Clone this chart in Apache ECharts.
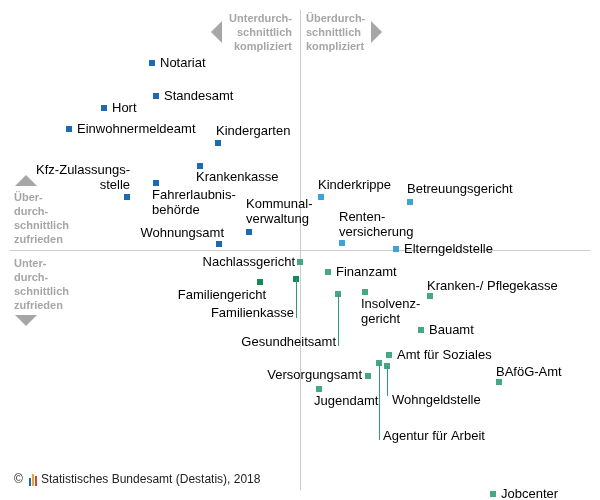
<!DOCTYPE html>
<html><head><meta charset="utf-8">
<script src="https://cdn.jsdelivr.net/npm/echarts@6/dist/echarts.min.js"></script>
<style>html,body{margin:0;padding:0;background:#fff}#c{width:600px;height:500px}</style>
</head><body><div id="c"></div>
<script>
// Data: x = complication (positive = above average complicated), y = satisfaction (positive = above average satisfied)
const names = ["Notariat","Standesamt","Hort","Einwohnermeldeamt","Kindergarten","Krankenkasse","Kfz-Zulassungs-\nstelle","Fahrerlaubnis-\nbehörde","Kommunal-\nverwaltung","Wohnungsamt",
"Kinderkrippe","Betreuungsgericht","Renten-\nversicherung","Elterngeldstelle",
"Nachlassgericht","Finanzamt","Familiengericht","Familienkasse","Gesundheitsamt","Insolvenz-\ngericht","Kranken-/ Pflegekasse","Bauamt","Amt für Soziales","BAföG-Amt","Versorgungsamt","Jugendamt","Wohngeldstelle","Agentur für Arbeit","Jobcenter"];
const xs = [-14.8,-14.4,-19.6,-23.1,-8.2,-10.0,-17.3,-14.4,-5.1,-8.1, 2.1,11.0,4.2,9.6, 0.0,2.8,-4.0,-0.4,3.8,6.5,13.0,12.1,8.9,19.9,6.8,1.9,8.7,7.9,19.3];
const ys = [18.7,15.4,14.2,12.1,10.7,8.4,5.3,6.7,1.8,0.6, 5.3,4.8,0.7,0.1, -1.2,-2.2,-3.2,-2.9,-4.4,-4.2,-4.6,-8.0,-10.5,-13.2,-12.6,-13.9,-11.6,-11.3,-24.4];
const groups = ["db","db","db","db","db","db","db","db","db","db","lb","lb","lb","lb","lg","lg","dg","dg","lg","lg","lg","lg","lg","lg","lg","lg","lg","lg","lg"];
// label offsets (px) relative to point and alignment; leader line length (px)
const labelOff = [[8,0,"left"],[8,0,"left"],[8,0,"left"],[8,0,"left"],[-2,-12,"left"],[-4,11,"left"],[3,-19,"right"],[-4,20,"left"],[-3,-20,"left"],[5,-11,"right"],
[-3,-12,"left"],[-3,-13,"left"],[-3,-18,"left"],[8,0,"left"],
[-5,0,"right"],[8,0,"left"],[6,13,"right"],[-2,34,"right"],[-2,48,"right"],[-4,20,"left"],[-3,-10,"left"],[8,0,"left"],[8,0,"left"],[-3,-10,"left"],[-6,-1,"right"],[-5,12,"left"],[5,34,"left"],[4,73,"left"],[8,0,"left"]];
const leaders = {"Familienkasse":39,"Gesundheitsamt":52,"Wohngeldstelle":30,"Agentur für Arbeit":77};
const colors = {db:"#1c6aaf",lb:"#3aa5d6",lg:"#45a882",dg:"#138a55"};

const data = names.map((n,i)=>({
  name:n, value:[xs[i],ys[i]],
  itemStyle:{color:colors[groups[i]],opacity:1},
  label:{show:true, formatter:n, position:[labelOff[i][0]+3,labelOff[i][1]+3], align:labelOff[i][2], verticalAlign:"middle"}
}));
const leaderLines = names.map((n,i)=>leaders[n]?[{coord:[xs[i],ys[i]]},{coord:[xs[i],ys[i]-leaders[n]/10]}]:null).filter(Boolean);

const chart = echarts.init(document.getElementById('c'));
const gray = "#a6a6a6";
const tri = (pts)=>({type:'polygon',shape:{points:pts},style:{fill:gray}});
chart.setOption({
  animation:false,
  grid:{left:10,right:10,top:10,bottom:10},
  xAxis:{type:'value',min:-29,max:29,axisLine:{onZero:true,lineStyle:{color:"#cccccc"}},axisTick:{show:false},axisLabel:{show:false},splitLine:{show:false}},
  yAxis:{type:'value',min:-24,max:24,axisLine:{onZero:true,lineStyle:{color:"#cccccc"}},axisTick:{show:false},axisLabel:{show:false},splitLine:{show:false}},
  series:[{type:'scatter',symbol:'rect',symbolSize:6,clip:false,data:data,
    label:{color:"#000",fontSize:13,fontFamily:"Liberation Sans, Arial",lineHeight:15},
    markLine:{silent:true,symbol:'none',label:{show:false},lineStyle:{color:"#2e9a76",type:'solid',width:1,opacity:1},emphasis:{disabled:true},data:leaderLines}
  }],
  graphic:[
    {type:'text',x:292,y:12,style:{text:"Unterdurch-\nschnittlich\nkompliziert",fill:gray,font:"bold 11px Liberation Sans, Arial",align:'right',lineHeight:14}},
    {type:'text',x:306,y:12,style:{text:"Überdurch-\nschnittlich\nkompliziert",fill:gray,font:"bold 11px Liberation Sans, Arial",align:'left',lineHeight:14}},
    tri([[211,32],[222,21],[222,43]]), tri([[382,32],[371,21],[371,43]]),
    tri([[15,186],[26,175],[37,186]]),
    {type:'text',x:14,y:191,style:{text:"Über-\ndurch-\nschnittlich\nzufrieden",fill:gray,font:"bold 11px Liberation Sans, Arial",lineHeight:14}},
    {type:'text',x:14,y:257,style:{text:"Unter-\ndurch-\nschnittlich\nzufrieden",fill:gray,font:"bold 11px Liberation Sans, Arial",lineHeight:14}},
    tri([[15,315],[37,315],[26,326]]),
    {type:'text',x:14,y:474,style:{text:"©",fill:"#222",font:"12px Liberation Sans, Arial"}},
    {type:'rect',shape:{x:29,y:478,width:2,height:8},style:{fill:"#1c6aaf"}},
    {type:'rect',shape:{x:32,y:474,width:2,height:12},style:{fill:"#e8a33d"}},
    {type:'rect',shape:{x:35,y:476,width:2,height:10},style:{fill:"#d9413a"}},
    {type:'text',x:41,y:474,style:{text:"Statistisches Bundesamt (Destatis), 2018",fill:"#222",font:"12px Liberation Sans, Arial"}}
  ]
});
</script></body></html>
